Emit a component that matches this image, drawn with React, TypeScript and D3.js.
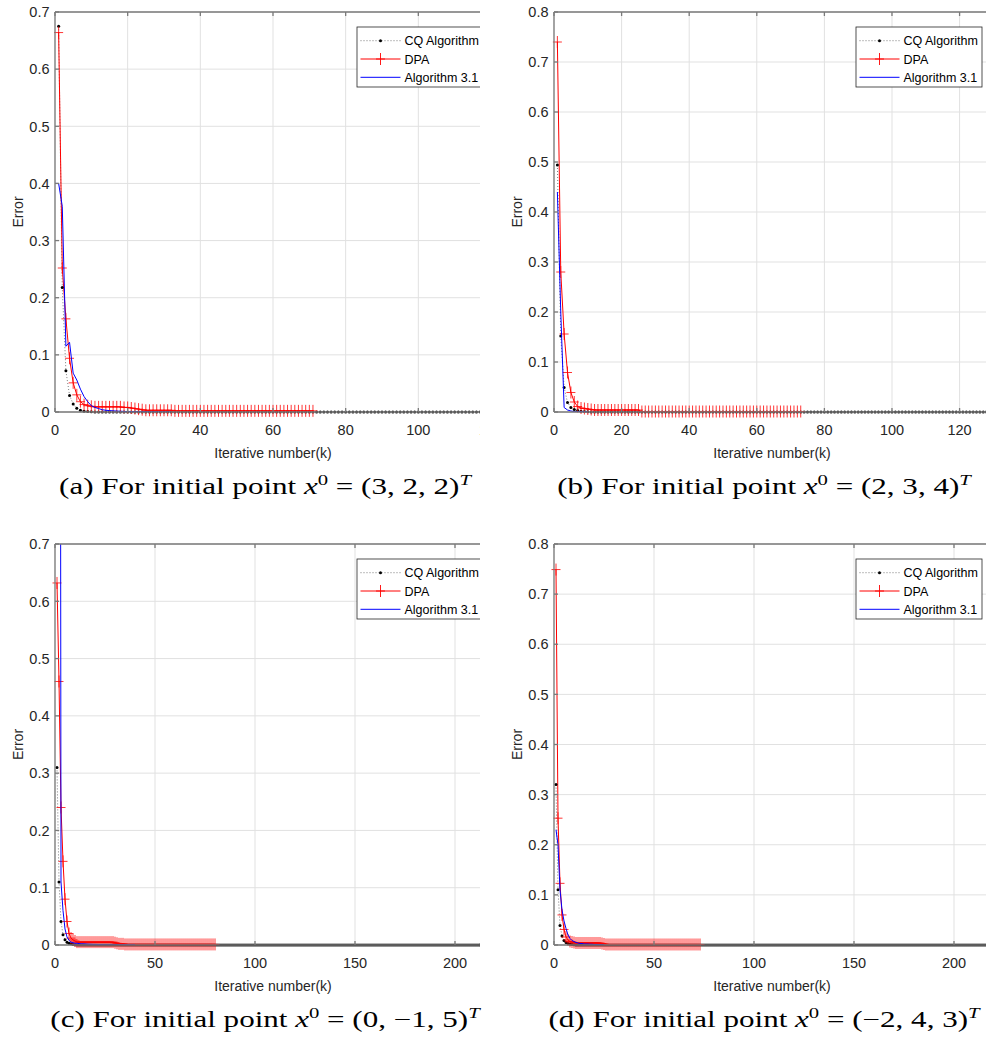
import * as d3 from "d3";
import React from "react";

const seriesNames = ["CQ Algorithm", "DPA", "Algorithm 3.1"];
const initPoints = ["3, 2, 2", "2, 3, 4", "0, \u22121, 5", "\u22122, 4, 3"];

// (a) x0 = (3,2,2)^T, iterations start at k = 1 (Algorithm 3.1 from k = 0)
const cqA = [
  0.675, 0.218, 0.072, 0.029, 0.014, 0.0065, 0.003, 0.0015, 0.0008, 0.0004, 0.0002, 0.0001,
  0, 0, 0, 0, 0, 0, 0, 0, 0, 0, 0, 0, 0, 0, 0, 0, 0, 0, 0, 0, 0, 0, 0, 0,
  0, 0, 0, 0, 0, 0, 0, 0, 0, 0, 0, 0, 0, 0, 0, 0, 0, 0, 0, 0, 0, 0, 0, 0,
  0, 0, 0, 0, 0, 0, 0, 0, 0, 0, 0, 0, 0, 0, 0, 0, 0, 0, 0, 0, 0, 0, 0, 0,
  0, 0, 0, 0, 0, 0, 0, 0, 0, 0, 0, 0, 0, 0, 0, 0, 0, 0, 0, 0, 0, 0, 0, 0,
  0, 0, 0, 0, 0, 0, 0, 0, 0, 0, 0, 0,
];
const dpaA = [
  0.664, 0.252, 0.163, 0.094, 0.051, 0.03, 0.018, 0.013, 0.011, 0.01,
  0.009, 0.009, 0.009, 0.009, 0.009, 0.009, 0.009, 0.009, 0.008, 0.008,
  0.007, 0.006, 0.005, 0.004, 0.003, 0.003, 0.003, 0.003, 0.003, 0.003,
  0.003, 0.003, 0.002, 0.002, 0.002, 0.002, 0.002, 0.002, 0.002, 0.002,
  0.002, 0.002, 0.002, 0.002, 0.002, 0.002, 0.002, 0.002, 0.002, 0.002,
  0.002, 0.002, 0.002, 0.002, 0.002, 0.002, 0.002, 0.002, 0.002, 0.002,
  0.002, 0.002, 0.002, 0.002, 0.002, 0.002, 0.002, 0.002, 0.002, 0.002,
  0.002,
];
const algA = [
  0.4, 0.4, 0.36, 0.115, 0.122, 0.068, 0.056, 0.04, 0.027, 0.018, 0.011,
  0.008, 0.006, 0.004, 0.003, 0.0025, 0.002, 0.0016, 0.0013, 0.001, 0.0008,
  0.0007, 0.0006, 0.0005, 0.0004, 0.0004, 0.0003, 0.0003, 0.0002, 0.0002,
  0.0001, 0.0001, 0.0001,
];

// (b) x0 = (2,3,4)^T
const cqB = [
  0.494, 0.152, 0.049, 0.019, 0.009, 0.005, 0.003, 0.0015, 0.0008, 0.0004,
  0, 0, 0, 0, 0, 0, 0, 0, 0, 0, 0, 0, 0, 0, 0, 0, 0, 0, 0, 0,
  0, 0, 0, 0, 0, 0, 0, 0, 0, 0, 0, 0, 0, 0, 0, 0, 0, 0, 0, 0,
  0, 0, 0, 0, 0, 0, 0, 0, 0, 0, 0, 0, 0, 0, 0, 0, 0, 0, 0, 0,
  0, 0, 0, 0, 0, 0, 0, 0, 0, 0, 0, 0, 0, 0, 0, 0, 0, 0, 0, 0,
  0, 0, 0, 0, 0, 0, 0, 0, 0, 0, 0, 0, 0, 0, 0, 0, 0, 0, 0, 0,
  0, 0, 0, 0, 0, 0, 0, 0, 0, 0, 0, 0, 0, 0, 0, 0, 0, 0, 0,
];
const dpaB = [
  0.74, 0.28, 0.156, 0.079, 0.039, 0.02, 0.011, 0.008, 0.007, 0.006,
  0.005, 0.004, 0.004, 0.004, 0.004, 0.004, 0.004, 0.004, 0.004, 0.004,
  0.004, 0.004, 0.004, 0.004, 0.004, 0.001, 0.001, 0.001, 0.001, 0.001,
  0.001, 0.001, 0.001, 0.001, 0.001, 0.001, 0.001, 0.001, 0.001, 0.001,
  0.001, 0.001, 0.001, 0.001, 0.001, 0.001, 0.001, 0.001, 0.001, 0.001,
  0.001, 0.001, 0.001, 0.001, 0.001, 0.001, 0.001, 0.001, 0.001, 0.001,
  0.001, 0.001, 0.001, 0.001, 0.001, 0.001, 0.001, 0.001, 0.001, 0.001,
  0.001, 0.001, 0.001,
];
const algB = [0.44, 0.2, 0.009, 0.004, 0.002, 0.001, 0.0007, 0.0005, 0.0003, 0.0002];

// (c) x0 = (0,-1,5)^T
const cqC = [
  0.31, 0.11, 0.041, 0.018, 0.009, 0.005, 0.003, 0.002, 0.001, 0.0005,
  0, 0, 0, 0, 0, 0, 0, 0, 0, 0, 0, 0, 0, 0, 0, 0, 0, 0, 0, 0,
  0, 0, 0, 0, 0, 0, 0, 0, 0, 0, 0, 0, 0, 0, 0, 0, 0, 0, 0, 0,
  0, 0, 0, 0, 0, 0, 0, 0, 0, 0, 0, 0, 0, 0, 0, 0, 0, 0, 0, 0,
  0, 0, 0, 0, 0, 0, 0, 0, 0, 0, 0, 0, 0, 0, 0, 0, 0, 0, 0, 0,
  0, 0, 0, 0, 0, 0, 0, 0, 0, 0, 0, 0, 0, 0, 0, 0, 0, 0, 0, 0,
  0, 0, 0, 0, 0, 0, 0, 0, 0, 0, 0, 0, 0, 0, 0, 0, 0, 0, 0, 0,
  0, 0, 0, 0, 0, 0, 0, 0, 0, 0, 0, 0, 0, 0, 0, 0, 0, 0, 0, 0,
  0, 0, 0, 0, 0, 0, 0, 0, 0, 0, 0, 0, 0, 0, 0, 0, 0, 0, 0, 0,
  0, 0, 0, 0, 0, 0, 0, 0, 0, 0, 0, 0, 0, 0, 0, 0, 0, 0, 0, 0,
  0, 0, 0, 0, 0, 0, 0, 0, 0, 0, 0, 0, 0, 0, 0, 0, 0, 0, 0, 0,
  0, 0, 0, 0, 0, 0, 0, 0,
];
const dpaC = [
  0.632, 0.46, 0.24, 0.146, 0.08, 0.041, 0.02, 0.012, 0.009, 0.007,
  0.005, 0.005, 0.005, 0.005, 0.005, 0.005, 0.005, 0.005, 0.005, 0.005,
  0.005, 0.005, 0.005, 0.005, 0.005, 0.005, 0.005, 0.005, 0.005, 0.004,
  0.003, 0.002, 0.002, 0.002, 0.001, 0.001, 0.001, 0.001, 0.001, 0.001,
  0.001, 0.001, 0.001, 0.001, 0.001, 0.001, 0.001, 0.001, 0.001, 0.001,
  0.001, 0.001, 0.001, 0.001, 0.001, 0.001, 0.001, 0.001, 0.001, 0.001,
  0.001, 0.001, 0.001, 0.001, 0.001, 0.001, 0.001, 0.001, 0.001, 0.001,
  0.001, 0.001, 0.001, 0.001, 0.001, 0.001, 0.001, 0.001, 0.001, 0.001,
];
const algC = [
  3.0, 3.5, 0.11, 0.06, 0.028, 0.014, 0.008, 0.005, 0.004, 0.003,
  0.003, 0.0025, 0.002, 0.002, 0.0018, 0.0015, 0.0013, 0.0012, 0.001, 0.001,
  0.0009, 0.0008, 0.0007, 0.0006, 0.0005, 0.0005, 0.0004, 0.0004, 0.0003, 0.0003,
  0.0003, 0.0002, 0.0002, 0.0002, 0.0002, 0.0001, 0.0001, 0.0001, 0.0001, 0.0001,
];

// (d) x0 = (-2,4,3)^T
const cqD = [
  0.32, 0.11, 0.039, 0.018, 0.009, 0.005, 0.003, 0.0015, 0.0008, 0.0004,
  0, 0, 0, 0, 0, 0, 0, 0, 0, 0, 0, 0, 0, 0, 0, 0, 0, 0, 0, 0,
  0, 0, 0, 0, 0, 0, 0, 0, 0, 0, 0, 0, 0, 0, 0, 0, 0, 0, 0, 0,
  0, 0, 0, 0, 0, 0, 0, 0, 0, 0, 0, 0, 0, 0, 0, 0, 0, 0, 0, 0,
  0, 0, 0, 0, 0, 0, 0, 0, 0, 0, 0, 0, 0, 0, 0, 0, 0, 0, 0, 0,
  0, 0, 0, 0, 0, 0, 0, 0, 0, 0, 0, 0, 0, 0, 0, 0, 0, 0, 0, 0,
  0, 0, 0, 0, 0, 0, 0, 0, 0, 0, 0, 0, 0, 0, 0, 0, 0, 0, 0, 0,
  0, 0, 0, 0, 0, 0, 0, 0, 0, 0, 0, 0, 0, 0, 0, 0, 0, 0, 0, 0,
  0, 0, 0, 0, 0, 0, 0, 0, 0, 0, 0, 0, 0, 0, 0, 0, 0, 0, 0, 0,
  0, 0, 0, 0, 0, 0, 0, 0, 0, 0, 0, 0, 0, 0, 0, 0, 0, 0, 0, 0,
  0, 0, 0, 0, 0, 0, 0, 0, 0, 0, 0, 0, 0, 0, 0, 0, 0, 0, 0, 0,
  0, 0, 0, 0, 0, 0, 0, 0,
];
const dpaD = [
  0.749, 0.253, 0.123, 0.06, 0.031, 0.016, 0.01, 0.007, 0.006, 0.005,
  0.004, 0.004, 0.004, 0.004, 0.004, 0.004, 0.004, 0.004, 0.004, 0.004,
  0.004, 0.004, 0.004, 0.003, 0.002, 0.001, 0.001, 0.001, 0.001, 0.001,
  0.001, 0.001, 0.001, 0.001, 0.001, 0.001, 0.001, 0.001, 0.001, 0.001,
  0.001, 0.001, 0.001, 0.001, 0.001, 0.001, 0.001, 0.001, 0.001, 0.001,
  0.001, 0.001, 0.001, 0.001, 0.001, 0.001, 0.001, 0.001, 0.001, 0.001,
  0.001, 0.001, 0.001, 0.001, 0.001, 0.001, 0.001, 0.001, 0.001, 0.001,
  0.001, 0.001, 0.001,
];
const algD = [
  0.23, 0.2, 0.11, 0.07, 0.048, 0.033, 0.02, 0.013, 0.009, 0.007,
  0.005, 0.004, 0.003, 0.003, 0.002, 0.002, 0.002, 0.0015, 0.0015, 0.001,
  0.001, 0.001, 0.0008, 0.0005, 0.0005,
];

const xTicksAB = [0, 20, 40, 60, 80, 100, 120];
const xTicksCD = [0, 50, 100, 150, 200];
const yTicks7 = [0, 0.1, 0.2, 0.3, 0.4, 0.5, 0.6, 0.7];
const yTicks8 = [0, 0.1, 0.2, 0.3, 0.4, 0.5, 0.6, 0.7, 0.8];

const SANS = "'Liberation Sans', Arial, Helvetica, sans-serif";
const SERIF = "'Liberation Serif', 'Times New Roman', serif";
const AXES_W = 436;

type PanelProps = {
  id: string;
  tag: string;
  point: string;
  left: number;
  top: number;
  bottom: number;
  cropRight: number;
  captionX: number;
  xMax: number;
  yMax: number;
  xTicks: number[];
  yTicks: number[];
  cq: number[];
  dpa: number[];
  alg: number[];
  algStart: number;
};

function Panel(p: PanelProps) {
  const right = p.left + AXES_W;
  const x = d3.scaleLinear().domain([0, p.xMax]).range([p.left, right]);
  const y = d3.scaleLinear().domain([0, p.yMax]).range([p.bottom, p.top]);
  const line = d3
    .line<[number, number]>()
    .x((d) => x(d[0]))
    .y((d) => y(d[1]));

  const cqPts: [number, number][] = p.cq.map((v, i) => [i + 1, v]);
  const dpaPts: [number, number][] = p.dpa.map((v, i) => [i + 1, v]);
  const algPts: [number, number][] = p.alg.map((v, i) => [i + p.algStart, v]);

  const cropId = `crop-${p.id}`;
  const plotId = `plot-${p.id}`;
  const cx = (p.left + right) / 2;

  // legend box (MATLAB "northeast")
  const lgW = 126;
  const lgH = 60;
  const lgX = right - 8 - lgW;
  const lgY = p.top + 15;
  const rowY = [lgY + 13.7, lgY + 32, lgY + 50.3];

  const plus = (px: number, py: number) => `M${px - 4.5},${py}h9M${px},${py - 6}v12`;

  return (
    <g>
      <defs>
        <clipPath id={cropId}>
          <rect x={0} y={0} width={p.cropRight} height={1040} />
        </clipPath>
        <clipPath id={plotId}>
          <rect x={p.left} y={p.top} width={AXES_W} height={p.bottom - p.top} />
        </clipPath>
      </defs>
      <g clipPath={`url(#${cropId})`}>
        {/* grid */}
        <g stroke="#e1e1e1" strokeWidth={1}>
          {p.xTicks.map((t) => (
            <line key={`gx${t}`} x1={x(t)} x2={x(t)} y1={p.top} y2={p.bottom} />
          ))}
          {p.yTicks.map((t) => (
            <line key={`gy${t}`} x1={p.left} x2={right} y1={y(t)} y2={y(t)} />
          ))}
        </g>

        {/* series */}
        <g clipPath={`url(#${plotId})`} fill="none">
          <path d={line(cqPts) || ""} stroke="#444" strokeWidth={0.7} strokeDasharray="1 2" />
          <path d={line(dpaPts) || ""} stroke="#ff0000" strokeWidth={1} />
        </g>
        <g fill="#000">
          {cqPts.map((d) => (
            <circle key={d[0]} cx={x(d[0])} cy={y(d[1])} r={1.5} />
          ))}
        </g>
        <g stroke="#ff0000" strokeWidth={0.8} fill="none">
          {dpaPts.map((d) => (
            <path key={d[0]} d={plus(x(d[0]), y(d[1]))} />
          ))}
        </g>
        <g clipPath={`url(#${plotId})`} fill="none">
          <path d={line(algPts) || ""} stroke="#0000ff" strokeWidth={1} />
        </g>

        {/* axes box */}
        <g stroke="#7a7a7a" strokeWidth={1.3} fill="none">
          <line x1={p.left} x2={right} y1={p.top} y2={p.top} />
          <line x1={p.left} x2={right} y1={p.bottom} y2={p.bottom} />
          <line x1={p.left} x2={p.left} y1={p.top} y2={p.bottom} />
          <line x1={right} x2={right} y1={p.top} y2={p.bottom} />
          {p.xTicks.map((t) => (
            <g key={`tx${t}`}>
              <line x1={x(t)} x2={x(t)} y1={p.bottom} y2={p.bottom - 4} />
              <line x1={x(t)} x2={x(t)} y1={p.top} y2={p.top + 4} />
            </g>
          ))}
          {p.yTicks.map((t) => (
            <g key={`ty${t}`}>
              <line x1={p.left} x2={p.left + 4} y1={y(t)} y2={y(t)} />
              <line x1={right} x2={right - 4} y1={y(t)} y2={y(t)} />
            </g>
          ))}
        </g>

        {/* tick labels */}
        <g fontFamily={SANS} fontSize={14.5} fill="#262626">
          {p.xTicks.map((t) => (
            <text key={`lx${t}`} x={x(t)} y={p.bottom + 23} textAnchor="middle">
              {t}
            </text>
          ))}
          {p.yTicks.map((t) => (
            <text key={`ly${t}`} x={p.left - 5.5} y={y(t)} dy="0.36em" textAnchor="end">
              {t}
            </text>
          ))}
        </g>
        <text
          x={cx}
          y={p.bottom + 41}
          dy="0.36em"
          textAnchor="middle"
          fontFamily={SANS}
          fontSize={14}
          fill="#262626"
        >
          Iterative number(k)
        </text>
        <text
          transform={`translate(${p.left - 37},${(p.top + p.bottom) / 2}) rotate(-90)`}
          textAnchor="middle"
          dy="0.36em"
          fontFamily={SANS}
          fontSize={14}
          fill="#262626"
        >
          Error
        </text>

        {/* legend */}
        <g>
          <rect x={lgX} y={lgY} width={lgW} height={lgH} fill="#fff" stroke="#262626" strokeWidth={0.8} />
          <line x1={lgX + 3.5} x2={lgX + 43.5} y1={rowY[0]} y2={rowY[0]} stroke="#444" strokeWidth={0.7} strokeDasharray="1 2" />
          <circle cx={lgX + 23.5} cy={rowY[0]} r={1.5} fill="#000" />
          <line x1={lgX + 3.5} x2={lgX + 43.5} y1={rowY[1]} y2={rowY[1]} stroke="#ff0000" strokeWidth={1} />
          <path d={plus(lgX + 23.5, rowY[1])} stroke="#ff0000" strokeWidth={0.9} />
          <line x1={lgX + 3.5} x2={lgX + 43.5} y1={rowY[2]} y2={rowY[2]} stroke="#0000ff" strokeWidth={1} />
          <g fontFamily={SANS} fontSize={12.5} fill="#000">
            {seriesNames.map((n, i) => (
              <text key={n} x={lgX + 47.5} y={rowY[i]} dy="0.36em">
                {n}
              </text>
            ))}
          </g>
        </g>
      </g>

      {/* caption (LaTeX subcaption, wide Computer Modern look) */}
      <g transform={`translate(${p.captionX},${p.bottom + 82}) scale(1.38,1)`}>
        <text x={0} y={0} textAnchor="middle" fontFamily={SERIF} fontSize={22.5} fill="#000">
          {`(${p.tag}) For initial point `}
          <tspan fontStyle="italic">x</tspan>
          <tspan dy={-9} fontSize={15}>0</tspan>
          <tspan dy={9}>{` = (${p.point})`}</tspan>
          <tspan dy={-9} fontSize={15} fontStyle="italic">T</tspan>
        </text>
      </g>
    </g>
  );
}

export default function App() {
  return (
    <svg
      width={986}
      height={1040}
      style={{ position: "absolute", left: 0, top: 0, background: "#fff", display: "block" }}
    >
      <Panel
        id="a" tag="a" point={initPoints[0]}
        left={55} top={12} bottom={412} cropRight={480} captionX={265}
        xMax={120} yMax={0.7} xTicks={xTicksAB} yTicks={yTicks7}
        cq={cqA} dpa={dpaA} alg={algA} algStart={0}
      />
      <Panel
        id="b" tag="b" point={initPoints[1]}
        left={554} top={12} bottom={412} cropRight={986} captionX={764}
        xMax={129} yMax={0.8} xTicks={xTicksAB} yTicks={yTicks8}
        cq={cqB} dpa={dpaB} alg={algB} algStart={1}
      />
      <Panel
        id="c" tag="c" point={initPoints[2]}
        left={55} top={544} bottom={945} cropRight={480} captionX={265}
        xMax={218} yMax={0.7} xTicks={xTicksCD} yTicks={yTicks7}
        cq={cqC} dpa={dpaC} alg={algC} algStart={1}
      />
      <Panel
        id="d" tag="d" point={initPoints[3]}
        left={554} top={544} bottom={945} cropRight={986} captionX={764}
        xMax={218} yMax={0.8} xTicks={xTicksCD} yTicks={yTicks8}
        cq={cqD} dpa={dpaD} alg={algD} algStart={1}
      />
    </svg>
  );
}
